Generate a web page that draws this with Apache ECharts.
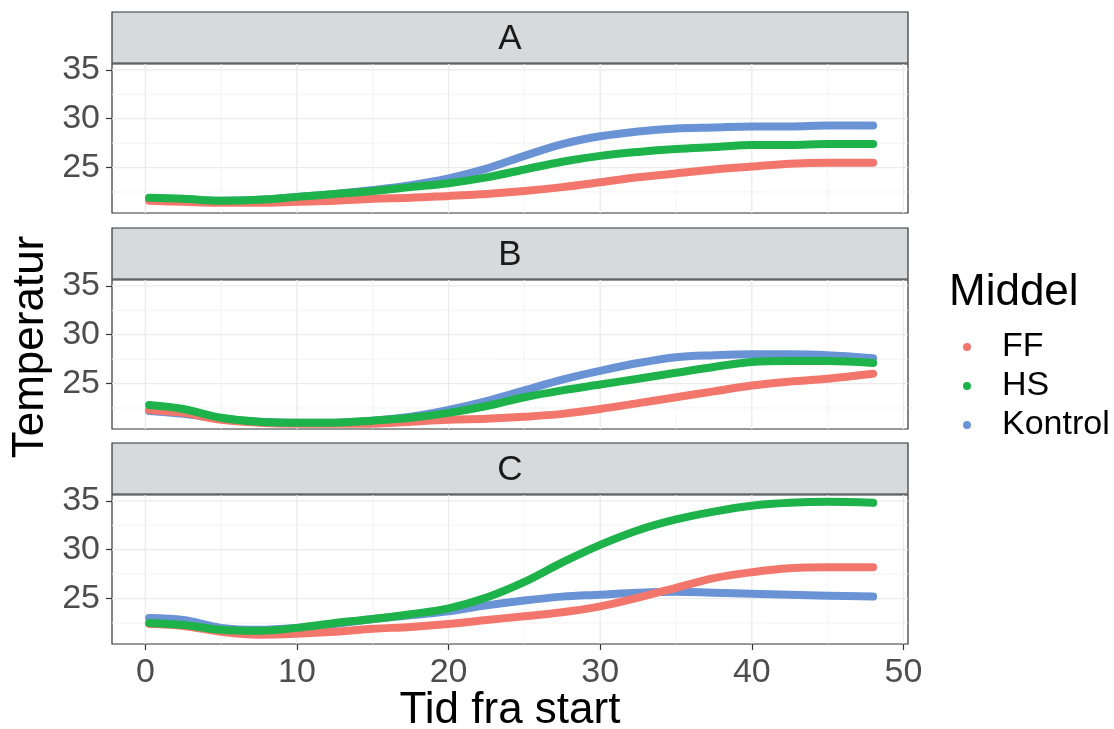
<!DOCTYPE html>
<html>
<head>
<meta charset="utf-8">
<script src="https://cdn.jsdelivr.net/npm/echarts@6/dist/echarts.min.js"></script>
<style>
html, body { margin: 0; padding: 0; background: #fff; }
#chart { width: 1114px; height: 729px; }
</style>
</head>
<body>
<div id="chart"></div>
<script>
// tid (timer) og temperatur pr. panel og middel
var tid = [0.25, 2.5, 5, 7.5, 10, 12.5, 15, 17.5, 20, 22.5, 25, 27.5, 30, 32.5, 35, 37.5, 40, 42.5, 45, 48];
var paneler = ['A', 'B', 'C'];
var midler = ['FF', 'HS', 'Kontrol'];

var ffA      = [21.6, 21.5, 21.4, 21.4, 21.5, 21.6, 21.8, 21.9, 22.1, 22.3, 22.6, 23.0, 23.5, 24.0, 24.4, 24.8, 25.1, 25.4, 25.5, 25.5];
var hsA      = [21.9, 21.8, 21.6, 21.7, 22.0, 22.3, 22.6, 23.0, 23.4, 24.0, 24.8, 25.6, 26.2, 26.6, 26.9, 27.1, 27.3, 27.3, 27.4, 27.4];
var kontrolA = [21.8, 21.7, 21.6, 21.7, 22.0, 22.3, 22.7, 23.2, 23.9, 24.9, 26.2, 27.4, 28.2, 28.7, 29.0, 29.1, 29.2, 29.2, 29.3, 29.3];

var ffB      = [22.3, 22.0, 21.3, 21.0, 20.9, 20.9, 20.9, 21.1, 21.3, 21.4, 21.6, 21.9, 22.4, 23.0, 23.6, 24.2, 24.8, 25.2, 25.5, 26.0];
var hsB      = [22.8, 22.4, 21.5, 21.1, 21.0, 21.0, 21.2, 21.5, 22.0, 22.7, 23.6, 24.3, 24.9, 25.5, 26.1, 26.7, 27.2, 27.3, 27.3, 27.1];
var kontrolB = [22.2, 21.9, 21.4, 21.1, 21.0, 21.0, 21.2, 21.6, 22.3, 23.2, 24.3, 25.4, 26.3, 27.1, 27.7, 27.9, 28.0, 28.0, 27.9, 27.6];

var ffC      = [22.4, 22.2, 21.6, 21.3, 21.4, 21.6, 21.9, 22.1, 22.4, 22.8, 23.2, 23.6, 24.2, 25.1, 26.1, 27.1, 27.7, 28.1, 28.2, 28.2];
var hsC      = [22.5, 22.3, 21.8, 21.7, 22.0, 22.5, 22.9, 23.4, 24.0, 25.1, 26.7, 28.7, 30.5, 32.0, 33.1, 33.9, 34.5, 34.8, 34.9, 34.8];
var kontrolC = [23.0, 22.8, 22.0, 21.8, 22.0, 22.4, 22.9, 23.3, 23.7, 24.3, 24.8, 25.2, 25.4, 25.6, 25.7, 25.6, 25.5, 25.4, 25.3, 25.2];

var xTicks = [0, 10, 20, 30, 40, 50];
var xMinor = [5, 15, 25, 35, 45];
var yTicks = [25, 30, 35];
var yMinor = [22.5, 27.5, 32.5];

var data = [
    [ffA, hsA, kontrolA],
    [ffB, hsB, kontrolB],
    [ffC, hsC, kontrolC]
];
var farver = ['#F3766C', '#1DB24A', '#6A93D6'];
var zOrden = [3, 4, 2];

var font = '"Liberation Sans", Arial, sans-serif';
var xMin = -2.2, xMax = 50.3;
var yMin = 20.35, yMax = 35.6;
var gridTop = [64, 280, 495];
var gridH = 149;
var left = 112, width = 796;

function par(ys) {
    return tid.map(function (t, i) { return [t, ys[i]]; });
}

// tegner hjælpelinjerne ud fra akse-skalaen
function gitterItem(params, api) {
    var cs = params.coordSys;
    var kids = [];
    function vLinje(v, major) {
        var x = api.coord([v, yMin])[0];
        kids.push({ type: 'line', shape: { x1: x, y1: cs.y, x2: x, y2: cs.y + cs.height },
            style: { stroke: major ? '#EBEBEB' : '#F2F2F2', lineWidth: major ? 1.3 : 0.9 } });
    }
    function hLinje(v, major) {
        var y = api.coord([xMin, v])[1];
        kids.push({ type: 'line', shape: { x1: cs.x, y1: y, x2: cs.x + cs.width, y2: y },
            style: { stroke: major ? '#EBEBEB' : '#F2F2F2', lineWidth: major ? 1.3 : 0.9 } });
    }
    xMinor.forEach(function (v) { vLinje(v, false); });
    yMinor.forEach(function (v) { hLinje(v, false); });
    xTicks.forEach(function (v) { vLinje(v, true); });
    yTicks.forEach(function (v) { hLinje(v, true); });
    return { type: 'group', children: kids };
}

var chart = echarts.init(document.getElementById('chart'));

var grids = [], xAxes = [], yAxes = [], series = [], graphics = [];

paneler.forEach(function (p, i) {
    var last = i === paneler.length - 1;
    grids.push({
        left: left, width: width, top: gridTop[i], height: gridH,
        show: true, backgroundColor: '#fff', borderColor: '#333', borderWidth: 1.2
    });
    xAxes.push({
        type: 'value', gridIndex: i, min: xMin, max: xMax,
        splitLine: { show: false },
        axisLine: { show: false, onZero: false },
        axisTick: { show: last, length: 6, customValues: xTicks, lineStyle: { color: '#333', width: 1.2 } },
        axisLabel: { show: last, customValues: xTicks, fontSize: 34, color: '#4D4D4D', fontFamily: font, margin: 12 }
    });
    yAxes.push({
        type: 'value', gridIndex: i, min: yMin, max: yMax,
        splitLine: { show: false },
        axisLine: { show: false, onZero: false },
        axisTick: { show: true, length: 6, customValues: yTicks, lineStyle: { color: '#333', width: 1.2 } },
        axisLabel: { customValues: yTicks, fontSize: 34, color: '#4D4D4D', fontFamily: font, margin: 12 }
    });
    series.push({
        type: 'custom', xAxisIndex: i, yAxisIndex: i, silent: true, z: 1,
        data: [[xMin, yMin]],
        renderItem: gitterItem
    });
    midler.forEach(function (m, k) {
        series.push({
            name: m, type: 'line', xAxisIndex: i, yAxisIndex: i,
            data: par(data[i][k]),
            smooth: 0.35, showSymbol: false, symbol: 'circle',
            z: zOrden[k],
            itemStyle: { color: farver[k] },
            lineStyle: { color: farver[k], width: 8, cap: 'round', join: 'round' }
        });
    });
    // strip med panelnavn
    graphics.push({
        type: 'rect', silent: true, z: 10,
        shape: { x: left, y: gridTop[i] - 52, width: width, height: 51 },
        style: { fill: '#D8D9DB', stroke: '#333', lineWidth: 1.2 }
    });
    graphics.push({
        type: 'text', silent: true, z: 11,
        x: left + width / 2, y: gridTop[i] - 25,
        style: { text: p, font: '35px ' + font, fill: '#1A1A1A', align: 'center', verticalAlign: 'middle' }
    });
});

graphics.push({
    type: 'text', silent: true,
    x: left + width / 2, y: 711,
    style: { text: 'Tid fra start', font: '44px ' + font, fill: '#000', align: 'center', verticalAlign: 'middle' }
});
graphics.push({
    type: 'text', silent: true,
    x: 31, y: 347, rotation: Math.PI / 2,
    style: { text: 'Temperatur', font: '44px ' + font, fill: '#000', align: 'center', verticalAlign: 'middle' }
});
graphics.push({
    type: 'text', silent: true,
    x: 949, y: 293,
    style: { text: 'Middel', font: '44px ' + font, fill: '#000', align: 'left', verticalAlign: 'middle' }
});

chart.setOption({
    animation: false,
    backgroundColor: '#fff',
    grid: grids,
    xAxis: xAxes,
    yAxis: yAxes,
    legend: {
        data: midler,
        orient: 'vertical',
        left: 958, top: 325,
        icon: 'circle',
        itemWidth: 8, itemHeight: 8, itemGap: 5,
        textStyle: { fontSize: 34, color: '#000', fontFamily: font, lineHeight: 34, padding: [0, 0, 0, 26] }
    },
    graphic: graphics,
    series: series
});
</script>
</body>
</html>
